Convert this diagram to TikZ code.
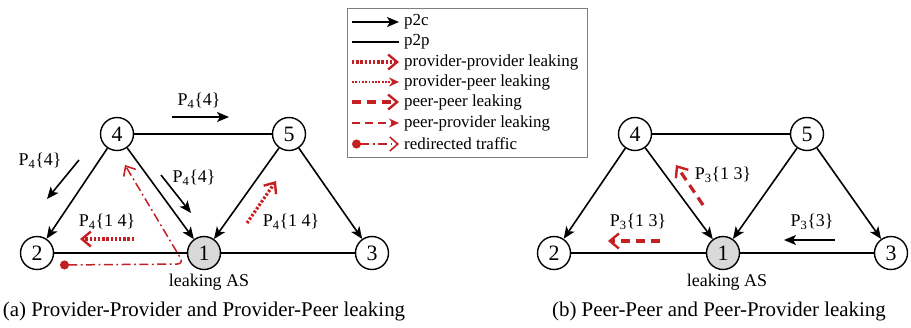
\documentclass[tikz,border=0pt]{standalone}
\usepackage{fontspec}
\setmainfont{Liberation Serif}
\usetikzlibrary{arrows.meta}
\definecolor{leakred}{RGB}{196,32,36}

\begin{document}
\begin{tikzpicture}[x=1bp,y=-1bp,
as/.style={draw, circle, line width=1.4bp, minimum size=33bp, inner sep=0pt, font=\fontsize{22}{24}\selectfont},
leaker/.style={as, fill=black!15},
lbl/.style={font=\fontsize{18}{20}\selectfont, inner sep=0pt},
p2c/.style={line width=1.6bp, -{Stealth[length=12bp,width=10bp,inset=3bp]}},
p2p/.style={line width=1.6bp},
pprov/.style={leakred, line width=3.2bp, dash pattern=on 2.4bp off 1.8bp, -{Straight Barb[length=9bp,width=15bp,line width=2.4bp]}},
ppeer/.style={leakred, line width=2.2bp, dash pattern=on 1.8bp off 1.5bp, -{Stealth[length=10bp,width=9bp]}},
peerpeer/.style={leakred, line width=3.2bp, dash pattern=on 9bp off 6bp, -{Straight Barb[length=9bp,width=15bp,line width=2.4bp]}},
peerprov/.style={leakred, line width=2.4bp, dash pattern=on 8bp off 5bp, -{Stealth[length=10bp,width=9bp]}},
redir/.style={leakred, line width=1.5bp, dash pattern=on 9bp off 3.5bp on 1.8bp off 3.5bp, {Circle[length=9bp]}-{Straight Barb[length=8bp,width=14bp,line width=1.6bp]}}
]
\useasboundingbox (0,0) rectangle (911,327);

% legend
\draw[black!50, line width=0.8bp] (347,8) rectangle (587,157);
\foreach \y/\sty/\txt in {22/p2c/p2c, 42/p2p/p2p, 62/pprov/provider-provider leaking, 82/ppeer/provider-peer leaking, 102/peerpeer/peer-peer leaking, 123/peerprov/peer-provider leaking, 144/redir/redirected traffic}{
  \coordinate (l\y) at (352,\y);
  \coordinate (r\y) at (399,\y);
  \draw[\sty] (l\y) -- (r\y);
  \node[anchor=west, font=\fontsize{17}{19}\selectfont, inner sep=0pt] (t\y) at (404,\y) {\txt};
}

% (a) provider leaking
\node[as] (a4) at (117,134) {4};
\node[as] (a5) at (289,134) {5};
\node[as] (a2) at (37,253) {2};
\node[leaker] (a1) at (204,253) {1};
\node[as] (a3) at (372,253) {3};
\draw[p2p] (a4) -- (a5);
\draw[p2p] (a2) -- (a1);
\draw[p2p] (a1) -- (a3);
\draw[p2c] (a4) -- (a2);
\draw[p2c] (a4) -- (a1);
\draw[p2c] (a5) -- (a1);
\draw[p2c] (a5) -- (a3);
\node[lbl] (ax) at (209,282) {leaking AS};
\node[font=\fontsize{21}{23}\selectfont, inner sep=0pt] (acap) at (204,311) {(a) Provider-Provider and Provider-Peer leaking};

\node[lbl] (la) at (199,101) {P\textsubscript{4}\{4\}};
\coordinate (la1) at (172,117); \coordinate (la2) at (229,117);
\draw[p2c] (la1) -- (la2);
\node[lbl] (lb) at (40,161) {P\textsubscript{4}\{4\}};
\coordinate (lb1) at (79,160); \coordinate (lb2) at (47,199);
\draw[p2c] (lb1) -- (lb2);
\node[lbl] (lc) at (194,178) {P\textsubscript{4}\{4\}};
\coordinate (lc1) at (161,175); \coordinate (lc2) at (191,213);
\draw[p2c] (lc1) -- (lc2);
\node[lbl] (ld) at (107,222) {P\textsubscript{4}\{1 4\}};
\coordinate (ld1) at (134,239); \coordinate (ld2) at (80,239);
\draw[pprov] (ld1) -- (ld2);
\node[lbl] (le) at (291,222) {P\textsubscript{4}\{1 4\}};
\coordinate (le1) at (247,223); \coordinate (le2) at (276,181);
\draw[pprov] (le1) -- (le2);
\coordinate (rd1) at (60,265); \coordinate (rd2) at (184,264); \coordinate (rd3) at (125,165);
\draw[redir, rounded corners=7bp] (rd1) -- (rd2) -- (rd3);

% (b) peer leaking
\node[as] (b4) at (635,134) {4};
\node[as] (b5) at (807,134) {5};
\node[as] (b2) at (554,253) {2};
\node[leaker] (b1) at (723,253) {1};
\node[as] (b3) at (891,253) {3};
\draw[p2p] (b4) -- (b5);
\draw[p2p] (b2) -- (b1);
\draw[p2p] (b1) -- (b3);
\draw[p2c] (b4) -- (b2);
\draw[p2c] (b4) -- (b1);
\draw[p2c] (b5) -- (b1);
\draw[p2c] (b5) -- (b3);
\node[lbl] (bx) at (727,282) {leaking AS};
\node[font=\fontsize{21}{23}\selectfont, inner sep=0pt] (bcap) at (719,311) {(b) Peer-Peer and Peer-Provider leaking};

\node[lbl] (lf) at (723,175) {P\textsubscript{3}\{1 3\}};
\coordinate (lf1) at (703,205); \coordinate (lf2) at (676,165);
\draw[peerpeer] (lf1) -- (lf2);
\node[lbl] (lg) at (638,222) {P\textsubscript{3}\{1 3\}};
\coordinate (lg1) at (660,241); \coordinate (lg2) at (608,241);
\draw[peerpeer] (lg1) -- (lg2);
\node[lbl] (lh) at (812,222) {P\textsubscript{3}\{3\}};
\coordinate (lh1) at (835,240); \coordinate (lh2) at (784,240);
\draw[p2c] (lh1) -- (lh2);
\end{tikzpicture}
\end{document}
